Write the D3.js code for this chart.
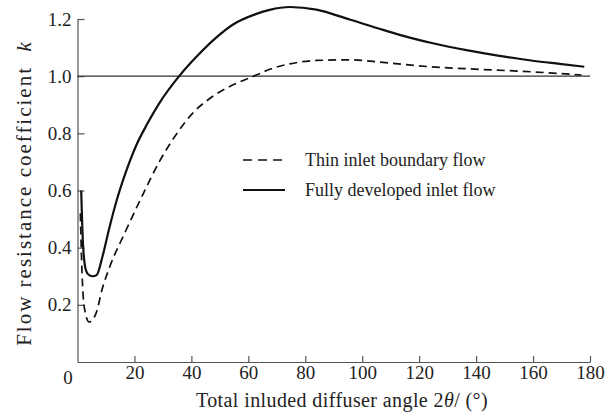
<!DOCTYPE html>
<html>
<head>
<meta charset="utf-8">
<script src="https://cdn.jsdelivr.net/npm/d3@7"></script>
<style>
  body { margin: 0; background: #fff; }
  text { font-family: "Liberation Serif", "Times New Roman", serif; fill: #222; }
</style>
</head>
<body>
<div class="plot"></div>
<script>
// angle in degrees, k
const thinAngle = [1, 1.6, 2.4, 4.1, 6.5, 8.8, 11.2, 17, 22.9, 28.7, 34.6, 40.4, 46.2, 52.1, 57, 62.6, 67.5, 74.6, 83.9, 95.6, 107.3, 123.7, 136.6, 160, 177];
const thinK     = [0.52, 0.31, 0.19, 0.14, 0.17, 0.26, 0.33, 0.46, 0.585, 0.70, 0.795, 0.87, 0.92, 0.957, 0.98, 1.003, 1.024, 1.043, 1.055, 1.057, 1.048, 1.033, 1.026, 1.015, 1.004];

const fullAngle = [1.3, 2, 3, 4.1, 5.4, 6.7, 8.8, 11.2, 13.6, 17, 20.5, 24.6, 28.7, 35.7, 41.6, 48.6, 54.5, 62.6, 67.5, 74.6, 83.9, 95.6, 107.3, 116.7, 124.8, 136.6, 148.2, 159.9, 169.3, 178];
const fullK     = [0.60, 0.40, 0.32, 0.304, 0.30, 0.304, 0.37, 0.47, 0.56, 0.665, 0.755, 0.835, 0.905, 1.0, 1.066, 1.134, 1.18, 1.217, 1.232, 1.242, 1.233, 1.198, 1.162, 1.135, 1.115, 1.091, 1.071, 1.054, 1.043, 1.033];

const xTicks = [20, 40, 60, 80, 100, 120, 140, 160, 180];
const yTicks = [0.2, 0.4, 0.6, 0.8, 1.0, 1.2];
const legendNames = ['Thin inlet boundary flow', 'Fully developed inlet flow'];

const width = 612, height = 414;
const xScale = d3.scaleLinear().domain([0, 180]).range([77.5, 590]);
const yScale = d3.scaleLinear().domain([0, 1.2]).range([362, 19]);

const svg = d3.select('.plot')
    .append('svg')
    .attr('width', width)
    .attr('height', height);

// axes, ticks pointing inward
const xAxis = svg.append('g')
    .attr('transform', 'translate(0,' + yScale(0) + ')')
    .call(d3.axisBottom(xScale)
        .tickValues(xTicks)
        .tickSizeInner(-6)
        .tickSizeOuter(0)
        .tickPadding(4)
        .tickFormat(d3.format('d')));

const yAxis = svg.append('g')
    .attr('transform', 'translate(' + xScale(0) + ',0)')
    .call(d3.axisLeft(yScale)
        .tickValues(yTicks)
        .tickSizeInner(-7)
        .tickSizeOuter(0)
        .tickPadding(6)
        .tickFormat(d3.format('.1f')));

svg.selectAll('g').attr('font-family', null).attr('font-size', null);
svg.selectAll('.domain, .tick line')
    .attr('stroke', '#555')
    .attr('stroke-width', 1.2);
svg.selectAll('.tick text')
    .style('font-size', '19px')
    .attr('fill', '#222');

svg.append('text')
    .attr('x', 68)
    .attr('y', yScale(0) + 22)
    .attr('text-anchor', 'middle')
    .style('font-size', '19px')
    .text('0');

// reference line at k = 1
svg.append('line')
    .attr('x1', xScale(0)).attr('x2', xScale(180))
    .attr('y1', yScale(1)).attr('y2', yScale(1))
    .attr('stroke', '#333')
    .attr('stroke-width', 1.1);

const line = d3.line()
    .x(d => xScale(d[0]))
    .y(d => yScale(d[1]))
    .curve(d3.curveMonotoneX);

svg.append('path')
    .datum(d3.zip(thinAngle, thinK))
    .attr('d', line)
    .attr('fill', 'none')
    .attr('stroke', '#111')
    .attr('stroke-width', 1.7)
    .attr('stroke-dasharray', '8,5');

svg.append('path')
    .datum(d3.zip(fullAngle, fullK))
    .attr('d', line)
    .attr('fill', 'none')
    .attr('stroke', '#111')
    .attr('stroke-width', 2.2);

// legend
const legend = svg.selectAll('.legend')
    .data(legendNames)
    .enter()
    .append('g')
    .attr('class', 'legend')
    .attr('transform', (d, i) => 'translate(243,' + (160 + i * 30) + ')');

legend.append('line')
    .attr('x1', 0).attr('x2', 42)
    .attr('stroke', '#111')
    .attr('stroke-width', (d, i) => i === 0 ? 1.7 : 2.2)
    .attr('stroke-dasharray', (d, i) => i === 0 ? '9,6' : null);

legend.append('text')
    .attr('x', 62)
    .attr('y', 6)
    .style('font-size', '18px')
    .text(d => d);

// axis titles
const xTitle = svg.append('text')
    .attr('x', 342)
    .attr('y', 407)
    .attr('text-anchor', 'middle')
    .style('font-size', '20px')
    .style('letter-spacing', '0.4px');
xTitle.append('tspan').text('Total inluded diffuser angle 2');
xTitle.append('tspan').style('font-style', 'italic').text('θ');
xTitle.append('tspan').text('/ (°)');

const yTitle = svg.append('text')
    .attr('transform', 'translate(31,193) rotate(-90)')
    .attr('text-anchor', 'middle')
    .style('font-size', '21px')
    .style('letter-spacing', '2px');
yTitle.append('tspan').text('Flow resistance coefficient\u00a0\u00a0');
yTitle.append('tspan').style('font-style', 'italic').text('k');
</script>
</body>
</html>
